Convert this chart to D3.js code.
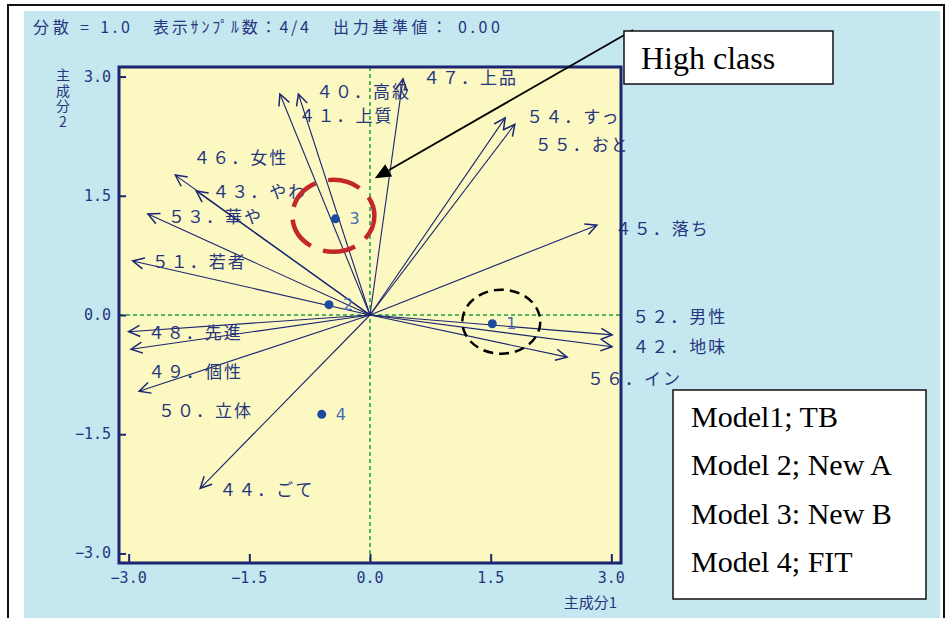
<!DOCTYPE html>
<html>
<head>
<meta charset="utf-8">
<script src="https://cdn.jsdelivr.net/npm/d3@7"></script>
<style>
  body { margin: 0; background: #ffffff; }
  svg { display: block; }
</style>
</head>
<body>
<svg id="chart" width="950" height="618"></svg>
<script>
// Principal component loadings (attribute vectors)
const vectorLabels = ["４０．高級", "４１．上質", "４７．上品", "５４．すっ", "５５．おと", "４５．落ち",
                      "５２．男性", "４２．地味", "５６．イン", "４６．女性", "４３．やわ", "５３．華や",
                      "５１．若者", "４８．先進", "４９．個性", "５０．立体", "４４．ごて"];
const vectorX = [-1.12, -0.89, 0.41, 1.68, 1.80, 2.82, 3.01, 3.01, 2.45, -2.42, -2.16, -2.76, -2.95, -3.00, -2.97, -2.87, -2.11];
const vectorY = [ 2.78,  2.78, 2.97, 2.48, 2.40, 1.13, -0.25, -0.40, -0.53, 1.76, 1.56, 1.27, 0.68, -0.21, -0.43, -0.96, -2.18];

// Sample scores (models)
const modelNames = ["1", "2", "3", "4"];
const modelX = [1.52, -0.51, -0.43, -0.60];
const modelY = [-0.11, 0.13, 1.21, -1.25];

const tickValues = [-3.0, -1.5, 0.0, 1.5, 3.0];
const headerParts = ["分散 = 1.0", "表示ｻﾝﾌﾟﾙ数：4/4", "出力基準値： 0.00"];
const axisTitleX = "主成分1";
const axisTitleY = "主成分2";
const legendLines = ["Model1; TB", "Model 2; New A", "Model 3: New B", "Model 4; FIT"];
const calloutText = "High class";
const calloutTarget = [0.06, 1.72];

// Label placement relative to each arrow tip (pixels)
const labelShift = [[36, -4], [0, 20], [20, -2], [21, -2], [20, 19], [18, 2],
                    [20, -19], [20, -1], [20, 20], [18, -19], [16, -1], [20, 1],
                    [19, 0], [19, 0], [17, 21], [19, 18], [19, 0]];

const navy = "#1b2571";
const textNavy = "#26367e";
const svg = d3.select("#chart");

// Frame and background
svg.append("rect").attr("x", 24).attr("y", 11).attr("width", 916).attr("height", 607).attr("fill", "#c5e7f0");
svg.append("path").attr("d", "M8,618V5H944V618").attr("fill", "none").attr("stroke", "#111").attr("stroke-width", 2);

// Header
const headerX = [33, 153, 333];
const headerW = [97, 156, 167];
svg.selectAll("text.header").data(headerParts).join("text")
  .attr("class", "header")
  .attr("x", (d, i) => headerX[i]).attr("y", 33)
  .attr("textLength", (d, i) => headerW[i]).attr("lengthAdjust", "spacing")
  .attr("font-family", "'Noto Sans CJK JP'").attr("font-size", 16)
  .attr("fill", textNavy).text(d => d);

// Scales
const x = d3.scaleLinear().domain([-3.12, 3.12]).range([119, 621]);
const y = d3.scaleLinear().domain([-3.12, 3.12]).range([563, 67]);

// Plot area
svg.append("rect").attr("x", x(-3.12)).attr("y", y(3.12))
  .attr("width", x(3.12) - x(-3.12)).attr("height", y(-3.12) - y(3.12))
  .attr("fill", "#fbf8c1");

// Zero reference lines
svg.append("line").attr("x1", x(-3.12)).attr("x2", x(3.12)).attr("y1", y(0)).attr("y2", y(0))
  .attr("stroke", "#1f9a3c").attr("stroke-width", 1.5).attr("stroke-dasharray", "4,3");
svg.append("line").attr("x1", x(0)).attr("x2", x(0)).attr("y1", y(3.12)).attr("y2", y(-3.12))
  .attr("stroke", "#1f9a3c").attr("stroke-width", 1.5).attr("stroke-dasharray", "4,3");

// Arrowhead marker
const defs = svg.append("defs");
defs.append("marker").attr("id", "vhead").attr("markerUnits", "userSpaceOnUse")
  .attr("markerWidth", 20).attr("markerHeight", 20).attr("viewBox", "-12 -8 14 16")
  .attr("refX", 0).attr("refY", 0).attr("orient", "auto")
  .append("path").attr("d", "M-9,-4.5L0,0L-9,4.5").attr("fill", "none")
  .attr("stroke", navy).attr("stroke-width", 1.2);

const vectors = vectorLabels.map((label, i) => ({ label, vx: vectorX[i], vy: vectorY[i], shift: labelShift[i] }));

svg.append("g").selectAll("line").data(vectors).join("line")
  .attr("x1", x(0)).attr("y1", y(0))
  .attr("x2", d => x(d.vx)).attr("y2", d => y(d.vy))
  .attr("stroke", navy).attr("stroke-width", 1.1)
  .attr("marker-end", "url(#vhead)");

svg.append("g").selectAll("text").data(vectors).join("text")
  .attr("x", d => x(d.vx) + d.shift[0]).attr("y", d => y(d.vy) + d.shift[1])
  .attr("dominant-baseline", "central")
  .attr("font-family", "'Noto Sans CJK JP'").attr("font-size", 17)
  .attr("letter-spacing", 2)
  .attr("fill", textNavy).text(d => d.label);

// Model scores
const models = modelNames.map((name, i) => ({ name, mx: modelX[i], my: modelY[i] }));
svg.append("g").selectAll("circle").data(models).join("circle")
  .attr("cx", d => x(d.mx)).attr("cy", d => y(d.my)).attr("r", 4.5)
  .attr("fill", "#1d4aa0");
svg.append("g").selectAll("text").data(models).join("text")
  .attr("x", d => x(d.mx) + 14).attr("y", d => y(d.my))
  .attr("dominant-baseline", "central")
  .attr("font-family", "'DejaVu Sans'").attr("font-size", 16)
  .attr("fill", "#4a69b6").text(d => d.name);

// Highlight rings around model 3 and model 1
svg.append("ellipse").attr("cx", x(modelX[2]) - 2).attr("cy", y(modelY[2]) - 3)
  .attr("rx", 41).attr("ry", 36).attr("fill", "none")
  .attr("stroke", "#c3272b").attr("stroke-width", 4.5).attr("stroke-dasharray", "33,13")
  .attr("stroke-dashoffset", 8);
svg.append("ellipse").attr("cx", x(modelX[0]) + 9).attr("cy", y(modelY[0]) - 2)
  .attr("rx", 39).attr("ry", 32).attr("fill", "none")
  .attr("stroke", "#000").attr("stroke-width", 2.5).attr("stroke-dasharray", "10,6");

// Plot border
svg.append("rect").attr("x", x(-3.12)).attr("y", y(3.12))
  .attr("width", x(3.12) - x(-3.12)).attr("height", y(-3.12) - y(3.12))
  .attr("fill", "none").attr("stroke", navy).attr("stroke-width", 3);

// Axes
const fmt = d3.format(".1f");
const xAxis = d3.axisTop(x).tickValues(tickValues).tickSize(9).tickFormat("");
const gx = svg.append("g").attr("transform", `translate(0,${y(-3.12)})`).call(xAxis);
gx.select(".domain").remove();
gx.selectAll("line").attr("stroke", navy).attr("stroke-width", 2);

const yAxis = d3.axisRight(y).tickValues(tickValues).tickSize(7).tickFormat("");
const gy = svg.append("g").attr("transform", `translate(${x(-3.12)},0)`).call(yAxis);
gy.select(".domain").remove();
gy.selectAll("line").attr("stroke", navy).attr("stroke-width", 2);

svg.append("g").selectAll("text").data(tickValues).join("text")
  .attr("x", d => x(d)).attr("y", 578).attr("text-anchor", "middle").attr("dominant-baseline", "central")
  .attr("font-family", "'DejaVu Sans Mono'").attr("font-size", 15).attr("fill", textNavy)
  .text(d => fmt(d).replace("-", "−"));
svg.append("g").selectAll("text").data(tickValues).join("text")
  .attr("x", 111).attr("y", d => y(d)).attr("text-anchor", "end").attr("dominant-baseline", "central")
  .attr("font-family", "'DejaVu Sans Mono'").attr("font-size", 15).attr("fill", textNavy)
  .text(d => fmt(d).replace("-", "−"));

// Axis titles
svg.append("text").attr("x", 617).attr("y", 601).attr("text-anchor", "end").attr("dominant-baseline", "central")
  .attr("font-family", "'Noto Sans CJK JP'").attr("font-size", 15).attr("fill", textNavy).text(axisTitleX);
svg.append("text").attr("x", 63).attr("y", 68)
  .attr("writing-mode", "vertical-rl").style("text-orientation", "upright")
  .attr("letter-spacing", 1.5)
  .attr("font-family", "'Noto Sans CJK JP'").attr("font-size", 14).attr("fill", textNavy).text(axisTitleY);

// Callout
const tip = [x(calloutTarget[0]), y(calloutTarget[1])];
const start = [633, 30];
const ang = Math.atan2(tip[1] - start[1], tip[0] - start[0]);
const headLen = 16, headHalf = 7;
const base = [tip[0] - headLen * Math.cos(ang), tip[1] - headLen * Math.sin(ang)];
svg.append("line").attr("x1", start[0]).attr("y1", start[1]).attr("x2", base[0]).attr("y2", base[1])
  .attr("stroke", "#000").attr("stroke-width", 1.8);
svg.append("path")
  .attr("d", `M${tip[0]},${tip[1]}L${base[0] - headHalf * Math.sin(ang)},${base[1] + headHalf * Math.cos(ang)}L${base[0] + headHalf * Math.sin(ang)},${base[1] - headHalf * Math.cos(ang)}Z`)
  .attr("fill", "#000");
svg.append("rect").attr("x", 624).attr("y", 31).attr("width", 209).attr("height", 53)
  .attr("fill", "#fff").attr("stroke", "#111").attr("stroke-width", 1.5);
svg.append("text").attr("x", 641).attr("y", 69)
  .attr("font-family", "'Liberation Serif'").attr("font-size", 32).attr("fill", "#000").text(calloutText);

// Legend
svg.append("rect").attr("x", 673).attr("y", 390).attr("width", 253).attr("height", 209)
  .attr("fill", "#fff").attr("stroke", "#111").attr("stroke-width", 1.5);
svg.append("g").selectAll("text").data(legendLines).join("text")
  .attr("x", 691).attr("y", (d, i) => 427 + i * 48.3)
  .attr("font-family", "'Liberation Serif'").attr("font-size", 30).attr("fill", "#000").text(d => d);
</script>
</body>
</html>
